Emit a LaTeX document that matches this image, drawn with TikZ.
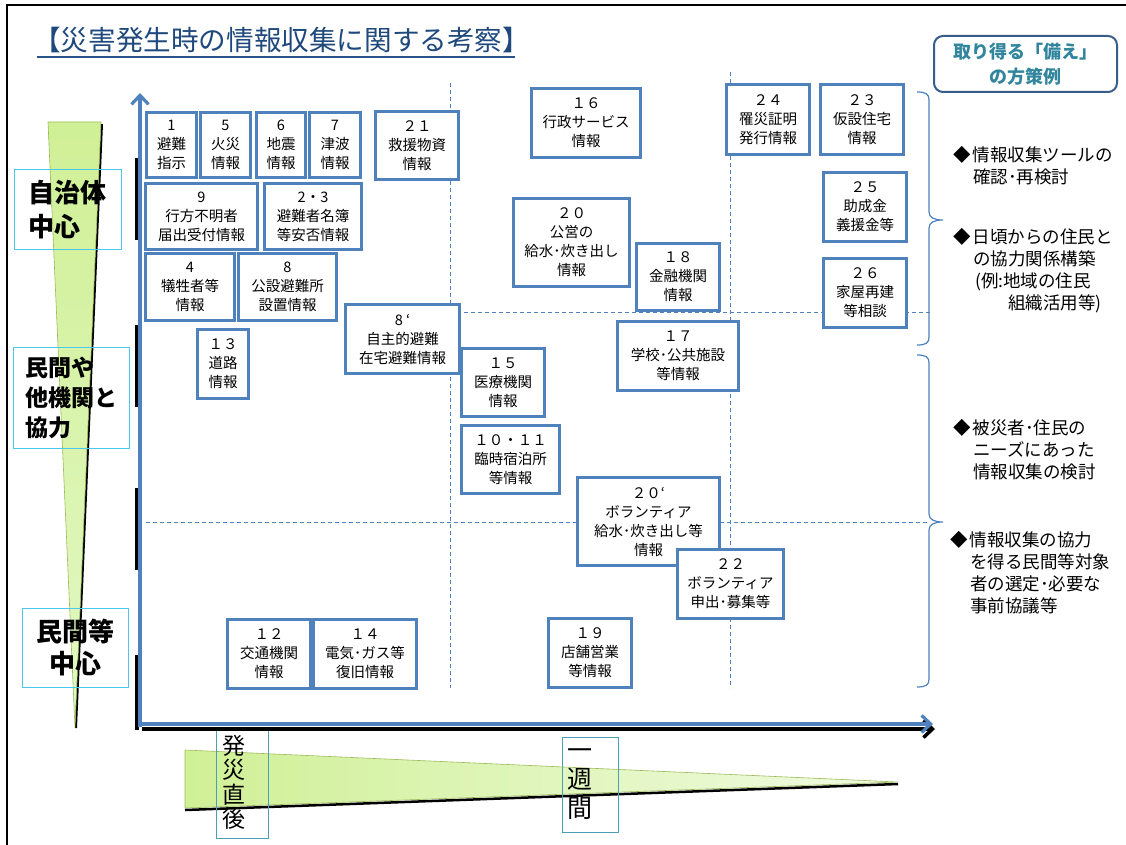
\documentclass[tikz,border=0pt]{standalone}
\usepackage{fontspec}
\setmainfont{Noto Sans CJK JP}
\usetikzlibrary{arrows.meta}

\definecolor{boxblue}{RGB}{79,129,189}
\definecolor{titleblue}{RGB}{31,73,125}
\definecolor{tipborder}{RGB}{56,93,138}
\definecolor{tealtext}{RGB}{49,133,156}
\definecolor{sideline}{RGB}{75,200,235}
\definecolor{timeline}{RGB}{75,160,180}
\definecolor{wedgedark}{RGB}{208,240,150}
\definecolor{wedgemid}{RGB}{226,248,196}
\definecolor{wedgelight}{RGB}{240,251,226}
\definecolor{wedgeedge}{RGB}{155,187,89}

\tikzset{
  infobox/.style={draw=boxblue, line width=2.8pt, fill=white, align=center,
    inner sep=0pt, font=\fontsize{14.5}{19}\selectfont},
  sidelabel/.style={draw=sideline, line width=1pt, inner sep=0pt,
    font=\bfseries\fontsize{26}{34}\selectfont},
  timelabel/.style={draw=timeline, line width=1pt, inner sep=0pt, align=left},
  gridline/.style={draw=boxblue, line width=1pt, dash pattern=on 4pt off 3pt},
  bracket/.style={draw=boxblue, line width=1.2pt},
  notetext/.style={anchor=west, align=left, inner sep=0pt,
    font=\fontsize{17.5}{22}\selectfont},
  axisline/.style={draw=boxblue, line width=3.2pt,
    -{Straight Barb[length=9pt,width=17pt]}},
}

\begin{document}
\begin{tikzpicture}[x=1pt,y=-1pt]
  \useasboundingbox (0,0) rectangle (1126,845);
  % frame and title
  \draw[line width=2.5pt] (7,845) -- (7,5) -- (1126,5);
  \node[anchor=west, inner sep=0pt, text=titleblue,
    font=\fontsize{27.6}{30}\selectfont] (title) at (33,40)
    {【災害発生時の情報収集に関する考察】};
  \draw[titleblue!80!boxblue, line width=1.8pt] (37,57) -- (515,57);

  % green wedges
  \shade[top color=wedgedark, bottom color=wedgemid]
    (48,122) -- (101,122) -- (75,728) -- cycle;
  \draw[line width=2pt] (102,124) -- (76,728);
  \draw[wedgeedge, line width=0.6pt] (48,122) -- (101,122) -- (75,728) -- cycle;
  \shade[left color=wedgedark, right color=wedgelight]
    (185,750) -- (898,782) -- (185,808) -- cycle;
  \draw[line width=2.5pt] (185,810) -- (898,784);
  \draw[wedgeedge, line width=0.6pt] (185,750) -- (898,782) -- (185,808) -- cycle;

  % side labels
  \node[sidelabel, align=left, minimum width=107pt, minimum height=79pt]
    (gov) at (67.5,209.5) {自治体\\中心};
  \node[sidelabel, align=left, minimum width=116pt, minimum height=101pt,
    font=\bfseries\fontsize{23}{30}\selectfont]
    (coop) at (71,397.5) {民間や\\他機関と\\協力};
  \node[sidelabel, align=center, minimum width=106pt, minimum height=79pt,
    font=\bfseries\fontsize{26}{32}\selectfont]
    (priv) at (75,647.5) {民間等\\中心};
  \node[timelabel, minimum width=52pt, minimum height=111pt, text width=40pt,
    font=\fontsize{23}{24.5}\selectfont] (tnow) at (242,782.5) {発\\災\\直\\後};
  \node[timelabel, minimum width=56pt, minimum height=95pt, text width=46pt,
    font=\fontsize{25}{29}\selectfont] (tweek) at (590,784.5) {一\\週\\間};

  % axes
  \coordinate (origin) at (140,727);
  \coordinate (ytop) at (140,93);
  \coordinate (xend) at (933,724);
  \foreach \ya/\yb in {158/240, 325/407, 488/570, 655/730}
    \draw[line width=4.5pt] (137,\ya) -- (137,\yb);
  \draw[line width=3.5pt, -{Straight Barb[length=9pt,width=17pt]}]
    (142,729) -- (935,729);
  \draw[axisline] (origin) -- (ytop);
  \draw[axisline] (140,724) -- (xend);

  % grid
  \draw[gridline] (450,83) -- (450,688);
  \draw[gridline] (730,72) -- (730,688);
  \draw[gridline] (450,312) -- (930,312);
  \draw[gridline] (146,522) -- (930,522);

  % brackets
  \draw[bracket] (917,92) .. controls (926,92) and (929,94) .. (929,100)
    -- (929,212) .. controls (929,218) and (935,220) .. (943,220)
    .. controls (935,220) and (929,222) .. (929,228)
    -- (929,337) .. controls (929,343) and (926,345) .. (917,345);
  \draw[bracket] (917,355) .. controls (926,355) and (929,357) .. (929,363)
    -- (929,514) .. controls (929,520) and (935,522) .. (943,522)
    .. controls (935,522) and (929,524) .. (929,530)
    -- (929,679) .. controls (929,685) and (926,687) .. (917,687);

  % information boxes
  \node[infobox, minimum width=50pt, minimum height=65pt] (b1) at (171.5,145) {1\\避難\\指示};
  \node[infobox, minimum width=50pt, minimum height=65pt] (b5) at (225.5,145) {5\\火災\\情報};
  \node[infobox, minimum width=49pt, minimum height=65pt] (b6) at (281,145) {6\\地震\\情報};
  \node[infobox, minimum width=51pt, minimum height=65pt] (b7) at (335,145) {7\\津波\\情報};
  \node[infobox, minimum width=83pt, minimum height=68pt] (b21) at (417,145.5) {２１\\救援物資\\情報};
  \node[infobox, minimum width=112pt, minimum height=66pt] (b9) at (201.5,216.5) {9\\行方不明者\\届出受付情報};
  \node[infobox, minimum width=97pt, minimum height=66pt] (b2x3) at (313,216.5) {2・3\\避難者名簿\\等安否情報};
  \node[infobox, minimum width=89pt, minimum height=67pt] (b4) at (190,287) {4\\犠牲者等\\情報};
  \node[infobox, minimum width=98pt, minimum height=67pt] (b8) at (287.5,287) {8\\公設避難所\\設置情報};
  \node[infobox, minimum width=51pt, minimum height=69pt] (b13) at (223,364) {１３\\道路\\情報};
  \node[infobox, minimum width=83pt, minimum height=68pt] (b15) at (503,382.5) {１５\\医療機関\\情報};
  \node[infobox, minimum width=114pt, minimum height=69pt] (b8p) at (402.5,339) {8 ‘\\自主的避難\\在宅避難情報};
  \node[infobox, minimum width=98pt, minimum height=68pt] (b10x11) at (510.5,459.5) {１０・１１\\臨時宿泊所\\等情報};
  \node[infobox, minimum width=109pt, minimum height=69pt] (b16) at (586,123) {１６\\行政サービス\\情報};
  \node[infobox, minimum width=116pt, minimum height=88pt] (b20) at (571.5,242.5) {２０\\公営の\\給水･炊き出し\\情報};
  \node[infobox, minimum width=83pt, minimum height=67pt] (b18) at (678,277) {１８\\金融機関\\情報};
  \node[infobox, minimum width=121pt, minimum height=69pt] (b17) at (678,356) {１７\\学校･公共施設\\等情報};
  \node[infobox, minimum width=142pt, minimum height=88pt] (b20p) at (648.5,521.5) {２０‘\\ボランティア\\給水･炊き出し等\\情報};
  \node[infobox, minimum width=106pt, minimum height=69pt] (b22) at (730.5,584) {２２\\ボランティア\\申出･募集等};
  \node[infobox, minimum width=83pt, minimum height=69pt] (b19) at (590,653) {１９\\店舗営業\\等情報};
  \node[infobox, minimum width=83pt, minimum height=69pt] (b12) at (269,654) {１２\\交通機関\\情報};
  \node[infobox, minimum width=103pt, minimum height=69pt] (b14) at (365,654) {１４\\電気･ガス等\\復旧情報};
  \node[infobox, minimum width=83pt, minimum height=70pt] (b24) at (768,119.5) {２４\\罹災証明\\発行情報};
  \node[infobox, minimum width=83pt, minimum height=70pt] (b23) at (862,119.5) {２３\\仮設住宅\\情報};
  \node[infobox, minimum width=83pt, minimum height=69pt] (b25) at (865,207) {２５\\助成金\\義援金等};
  \node[infobox, minimum width=83pt, minimum height=69pt] (b26) at (865,293) {２６\\家屋再建\\等相談};

  % measures
  \node[draw=tipborder, line width=2pt, rounded corners=9pt, minimum width=183pt,
    minimum height=56pt, align=center, inner sep=0pt, text=tealtext,
    font=\bfseries\fontsize{18}{25}\selectfont] (tips) at (1025.5,64)
    {取り得る「備え」\\の方策例};
  \node[notetext] (m1) at (953,166) {◆\hspace{2pt}情報収集ツールの\\\hspace{20pt}確認･再検討};
  \node[notetext] (m2) at (953,271) {◆\hspace{2pt}日頃からの住民と\\\hspace{20pt}の協力関係構築\\\hspace{22pt}(例:地域の住民\\\hspace{55pt}組織活用等)};
  \node[notetext] (m3) at (953,450) {◆\hspace{2pt}被災者･住民の\\\hspace{20pt}ニーズにあった\\\hspace{20pt}情報収集の検討};
  \node[notetext] (m4) at (950,573) {◆\hspace{2pt}情報収集の協力\\\hspace{20pt}を得る民間等対象\\\hspace{20pt}者の選定･必要な\\\hspace{20pt}事前協議等};
\end{tikzpicture}
\end{document}
